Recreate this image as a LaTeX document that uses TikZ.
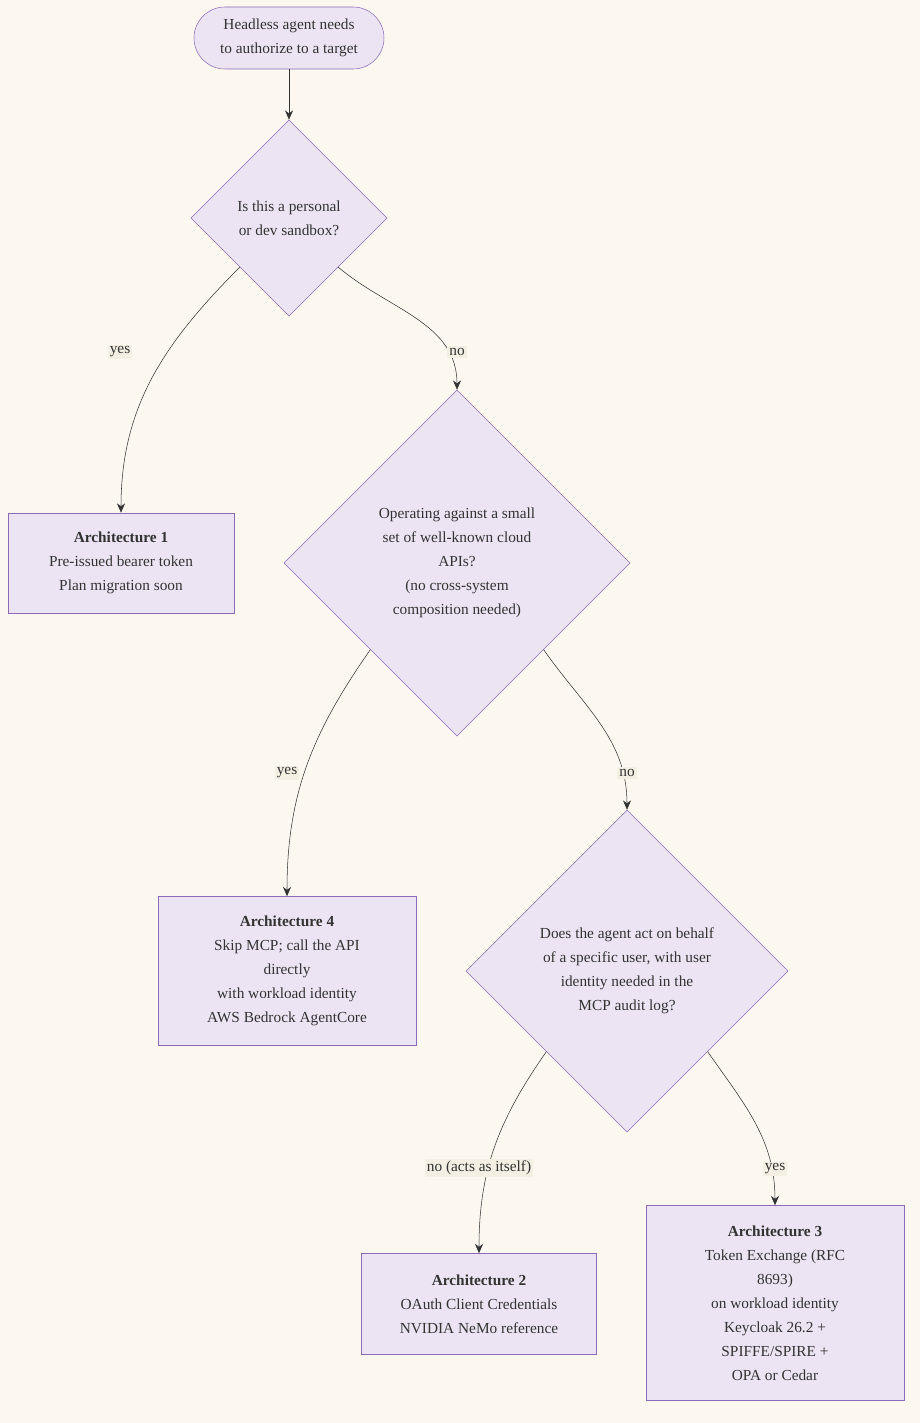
\documentclass[tikz,border=0pt]{standalone}
\usepackage{fontspec}
\setmainfont{Liberation Serif}
\usetikzlibrary{shapes.geometric,arrows.meta}
\definecolor{bgc}{HTML}{FCF7EF}
\definecolor{boxc}{HTML}{ECE4F3}
\definecolor{linec}{HTML}{8C6BB8}
\definecolor{lblc}{HTML}{F3EFE2}
\definecolor{txtc}{HTML}{333333}
\begin{document}
\begin{tikzpicture}[x=0.75pt,y=-0.75pt,
font=\fontsize{11.5}{18}\selectfont,text=txtc,
term/.style={%
draw=linec,
fill=boxc,
rounded corners=31*0.75pt,
minimum width=190*0.75pt,
minimum height=62*0.75pt,
align=center
},
choice/.style={%
shape=diamond,
draw=linec,
fill=boxc,
aspect=1,
inner sep=0pt,
align=center
},
arch/.style={%
draw=linec,
fill=boxc,
align=center
},
lbl/.style={%
fill=lblc,
inner sep=1.5pt
},
flow/.style={%
draw=txtc,
-{Stealth[length=7pt,width=6pt]}
},
]
\useasboundingbox[fill=bgc] (0,0) rectangle (920,1423);
%% Nodes
\node[term]at(289,38)(start){Headless agent needs\\to authorize to a target};
\node[choice,minimum size=196*0.75pt]at(289,218)(sandbox){Is this a personal\\or dev sandbox?};
\node[arch,minimum width=226*0.75pt,minimum height=100*0.75pt]at(121,563)(archA){\textbf{Architecture 1}\\Pre-issued bearer token\\Plan migration soon};
\node[choice,minimum size=346*0.75pt]at(457,563)(cloud){Operating against a small\\set of well-known cloud\\APIs?\\(no cross-system\\composition needed)};
\node[arch,minimum width=258*0.75pt,minimum height=149*0.75pt]at(287,971)(archD){\textbf{Architecture 4}\\Skip MCP; call the API\\directly\\with workload identity\\AWS Bedrock AgentCore};
\node[choice,minimum size=322*0.75pt]at(627,971)(behalf){Does the agent act on behalf\\of a specific user, with user\\identity needed in the\\MCP audit log?};
\node[arch,minimum width=235*0.75pt,minimum height=101*0.75pt]at(479,1304)(archB){\textbf{Architecture 2}\\OAuth Client Credentials\\NVIDIA NeMo reference};
\node[arch,minimum width=258*0.75pt,minimum height=195*0.75pt]at(775,1303)(archC){\textbf{Architecture 3}\\Token Exchange (RFC\\8693)\\on workload identity\\Keycloak 26.2 +\\SPIFFE/SPIRE +\\OPA or Cedar};
%% Edges
\draw[flow](start)--(sandbox);
\draw[flow](sandbox.south west)to[out=-135,in=90](archA.north);
\draw[flow](sandbox.south east)to[out=-40,in=90](cloud.north);
\draw[flow](cloud.south west)to[out=-125,in=90](archD.north);
\draw[flow](cloud.south east)to[out=-55,in=90](behalf.north);
\draw[flow](behalf.south west)to[out=-125,in=90](archB.north);
\draw[flow](behalf.south east)to[out=-55,in=90](archC.north);
%% Labels
\node[lbl]at(120,352)(yesA){yes};
\node[lbl]at(457,352)(noA){no};
\node[lbl]at(287,773)(yesB){yes};
\node[lbl]at(627,773)(noB){no};
\node[lbl]at(479,1168)(noC){no (acts as itself)};
\node[lbl]at(775,1169)(yesC){yes};
\end{tikzpicture}
\end{document}
